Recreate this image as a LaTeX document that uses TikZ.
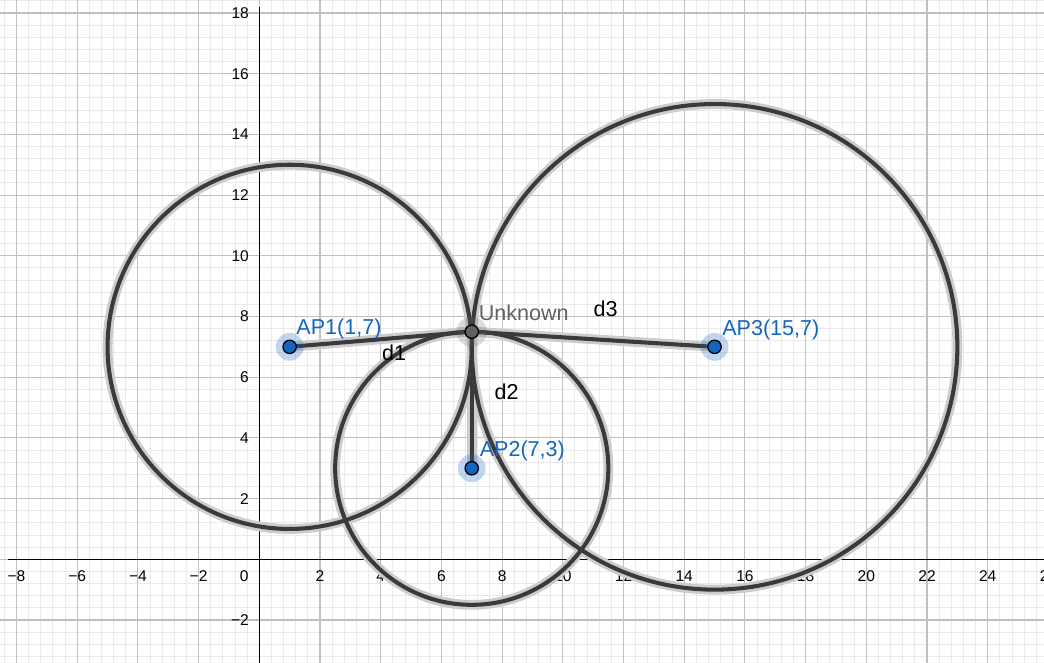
\documentclass[tikz,border=0pt]{standalone}
\usepackage{fontspec}
\setmainfont{Liberation Sans}
\usetikzlibrary{calc}

\definecolor{ggblue}{RGB}{21,101,192}
\definecolor{ggline}{RGB}{58,58,58}
\definecolor{gghalo}{RGB}{204,204,204}
\definecolor{gggray}{RGB}{97,97,97}
\definecolor{majorgrid}{RGB}{192,192,192}
\definecolor{minorgrid}{RGB}{234,234,234}

\tikzset{
  halo/.style={line width=4.6pt, color=gghalo},
  curve/.style={line width=1.9pt, color=ggline},
  bluept/.style={circle, fill=ggblue, draw=black, line width=0.6pt, inner sep=0pt, minimum size=0.22cm},
  greypt/.style={bluept, fill=gggray},
  ptlabel/.style={anchor=base west, inner sep=0pt, font=\fontsize{10.1}{12}\selectfont},
  ticklabel/.style={inner sep=0pt, font=\fontsize{7.3}{9}\selectfont},
}

\begin{document}
\begin{tikzpicture}[x=0.5cm, y=0.5cm]
	%%%%% START %%%%%
	\useasboundingbox (-8.544,-3.384) rectangle (25.855,18.428);
	\clip (-8.544,-3.384) rectangle (25.855,18.428);
	
	% grid
	\foreach \i in {-22,...,65}
		\draw[minorgrid, line width=0.45pt] (\i*0.4,-3.6) -- (\i*0.4,18.8);
	\foreach \j in {-9,...,47}
		\draw[minorgrid, line width=0.45pt] (-8.8,\j*0.4) -- (26.4,\j*0.4);
	\foreach \i in {-4,...,13}
		\draw[majorgrid, line width=0.5pt] (2*\i,-3.6) -- (2*\i,18.8);
	\foreach \j in {-1,...,9}
		\draw[majorgrid, line width=0.5pt] (-8.8,2*\j) -- (26.4,2*\j);
	
	% axes
	\draw[line width=0.6pt] (-8.28,0) -- (26.4,0);
	\draw[line width=0.6pt] (0,-3.6) -- (0,18.2);
	
	\foreach \v in {2,4,...,26}
		\node[ticklabel, anchor=base] (xtick\v) at (\v,-0.74) {\v};
	\foreach \v in {2,4,6,8}
		\node[ticklabel, anchor=base] (xtickm\v) at (-\v,-0.74) {−\v};
	\node[ticklabel, anchor=base] (xtick0) at (-0.5,-0.74) {0};
	\foreach \v in {2,4,...,18}
		\node[ticklabel, anchor=east] (ytick\v) at (-0.33,\v) {\v};
	\node[ticklabel, anchor=east] (ytickm2) at (-0.33,-2) {−2};
	
	% access points and the unknown one
	\coordinate (AP1) at (1,7);
	\coordinate (AP2) at (7,3);
	\coordinate (AP3) at (15,7);
	\coordinate (U) at (7,7.5);
	
	\draw[halo] (AP1) circle (6);
	\draw[halo] (AP2) circle (4.5);
	\draw[halo] (AP3) circle (8);
	\draw[halo] (U) -- (AP1);
	\draw[halo] (U) -- (AP2);
	\draw[halo] (U) -- (AP3);
	
	\draw[curve] (AP1) circle (6);
	\draw[curve] (AP2) circle (4.5);
	\draw[curve] (AP3) circle (8);
	\draw[curve] (U) -- (AP1);
	\draw[curve] (U) -- (AP2);
	\draw[curve] (U) -- (AP3);
	
	\fill[ggblue, opacity=0.26] (AP1) circle (0.46);
	\fill[ggblue, opacity=0.26] (AP2) circle (0.46);
	\fill[ggblue, opacity=0.26] (AP3) circle (0.46);
	\fill[gggray, opacity=0.22] (U) circle (0.5);
	
	\node[bluept] (AP1dot) at (AP1) {};
	\node[bluept] (AP2dot) at (AP2) {};
	\node[bluept] (AP3dot) at (AP3) {};
	\node[greypt] (Udot) at (U) {};
	
	% labels
	\node[ptlabel, text=ggblue] (AP1lbl) at (1.21,7.4) {AP1(1,7)};
	\node[ptlabel, text=ggblue] (AP2lbl) at (7.25,3.4) {AP2(7,3)};
	\node[ptlabel, text=ggblue] (AP3lbl) at (15.24,7.38) {AP3(15,7)};
	\node[ptlabel, text=gggray] (Ulbl) at (7.22,7.88) {Unknown};
	\node[ptlabel] (d1lbl) at (4.03,6.54) {d1};
	\node[ptlabel] (d2lbl) at (7.74,5.25) {d2};
	\node[ptlabel] (d3lbl) at (11.0,7.99) {d3};
	
	%%%%% END %%%%%
\end{tikzpicture}
\end{document}
